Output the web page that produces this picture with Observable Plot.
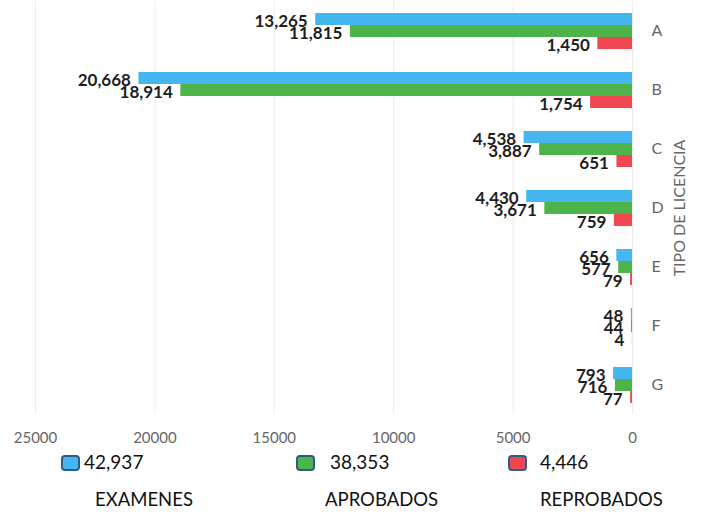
<!DOCTYPE html>
<html>
<head>
<meta charset="utf-8">
<script src="https://cdn.jsdelivr.net/npm/d3@7"></script>
<script src="https://cdn.jsdelivr.net/npm/@observablehq/plot@0.6"></script>
<style>
  html, body { margin: 0; padding: 0; background: #fff; }
  #wrap { width: 702px; font-family: Lato, "Open Sans", sans-serif; }
  #legend { position: relative; width: 702px; height: 66px; }
  .sw { position: absolute; width: 15px; height: 12px; border: 2px solid #2d5d84; border-radius: 4px; }
  .tot { position: absolute; font-size: 19px; color: #111; }
  .lab { position: absolute; font-size: 18.5px; color: #111; }
</style>
</head>
<body>
<div id="wrap"><div id="chart"></div><div id="legend"></div></div>
<script>
const categories = ["A", "B", "C", "D", "E", "F", "G"];
const series = ["EXAMENES", "APROBADOS", "REPROBADOS"];
const examenes = [13265, 20668, 4538, 4430, 656, 48, 793];
const aprobados = [11815, 18914, 3887, 3671, 577, 44, 716];
const reprobados = [1450, 1754, 651, 759, 79, 4, 77];
const totals = [42937, 38353, 4446];
const colors = ["#45b6f0", "#4cb449", "#ef4652"];
const xTicks = [0, 5000, 10000, 15000, 20000, 25000];

const values = [examenes, aprobados, reprobados];
const rows = [];
categories.forEach((c, i) => {
  series.forEach((s, j) => rows.push({cat: c, serie: s, value: values[j][i]}));
});
const fmt = d3.format(",");

const chart = Plot.plot({
  width: 702,
  height: 450,
  marginTop: 0,
  marginBottom: 36,
  marginLeft: 35,
  marginRight: 70,
  style: {fontFamily: "Lato, 'Open Sans', sans-serif", background: "white"},
  x: {domain: [0, 25000], reverse: true},
  fy: {domain: categories, padding: 0},
  y: {domain: series, paddingInner: 0, paddingOuter: 0.95, axis: null},
  color: {domain: series, range: colors},
  marks: [
    Plot.gridX({ticks: xTicks, stroke: "#ededed", strokeOpacity: 1}),
    Plot.barX(rows, {x: "value", y: "serie", fy: "cat", fill: "serie"}),
    Plot.text(rows, {
      x: "value", y: "serie", fy: "cat",
      text: d => fmt(d.value),
      textAnchor: "end", dx: -8, dy: 2,
      fontWeight: "bold", fontSize: 17, fill: "#1e1e1e"
    }),
    Plot.axisX({ticks: xTicks, tickSize: 0, tickPadding: 18, tickFormat: d => String(d), fontSize: 15, fill: "#666", label: null}),
    Plot.axisFy({anchor: "right", tickSize: 0, tickPadding: 19, fontSize: 16, fill: "#666",
      label: "TIPO DE LICENCIA", labelAnchor: "center", labelOffset: 52})
  ]
});
document.getElementById("chart").appendChild(chart);

const legend = document.getElementById("legend");
const pos = [
  {sw: 61, tot: 84, lab: 95},
  {sw: 296, tot: 330, lab: 325},
  {sw: 508, tot: 540, lab: 540}
];
series.forEach((s, j) => {
  const sw = document.createElement("div");
  sw.className = "sw";
  sw.style.left = pos[j].sw + "px";
  sw.style.top = "5px";
  sw.style.background = colors[j];
  legend.appendChild(sw);
  const t = document.createElement("div");
  t.className = "tot";
  t.style.left = pos[j].tot + "px";
  t.style.top = "0px";
  t.textContent = fmt(totals[j]);
  legend.appendChild(t);
  const l = document.createElement("div");
  l.className = "lab";
  l.style.left = pos[j].lab + "px";
  l.style.top = "38px";
  l.textContent = s;
  legend.appendChild(l);
});
</script>
</body>
</html>
